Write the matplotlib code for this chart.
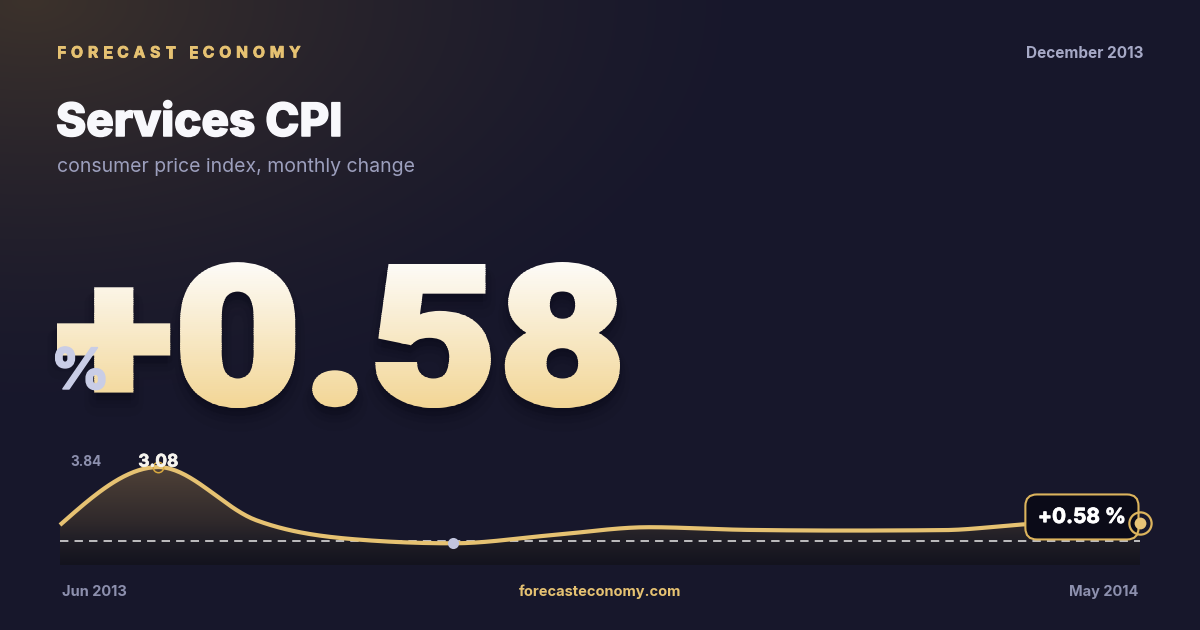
import numpy as np
import matplotlib
matplotlib.use('Agg')
import matplotlib.pyplot as plt
import matplotlib.patheffects as pe
from matplotlib.textpath import TextPath
from matplotlib.patches import PathPatch, Rectangle
from matplotlib.font_manager import FontProperties
from matplotlib.transforms import Affine2D

# data
months = ['Jun 2013', 'Jul 2013', 'Aug 2013', 'Sep 2013', 'Oct 2013', 'Nov 2013',
          'Dec 2013', 'Jan 2014', 'Feb 2014', 'Mar 2014', 'Apr 2014', 'May 2014']
cpi_change = [0.49, 3.08, 0.70, -0.15, -0.33, 0.03, 0.39, 0.27, 0.24, 0.26, 0.55, 0.58]
range_labels = ['3.84', '-0.85']
baseline = -0.22
headline = '+0.58'
period = 'December 2013'
brand = 'FORECAST ECONOMY'
title = 'Services CPI'
subtitle = 'consumer price index, monthly change'
site = 'forecasteconomy.com'

W, H = 1200, 630
plt.rcParams['font.family'] = ['Inter', 'DejaVu Sans']

GOLD = '#e6c272'
GREY = '#a6a9c6'
MUTED = '#8d90ae'


# monotone cubic (same idea as d3 curveMonotoneX)
def monotone(xs, ys, n=40):
    xs = np.asarray(xs, float); ys = np.asarray(ys, float)
    h = np.diff(xs); s = np.diff(ys) / h
    t = np.zeros_like(ys)
    for i in range(1, len(ys) - 1):
        p = (s[i - 1] * h[i] + s[i] * h[i - 1]) / (h[i - 1] + h[i])
        t[i] = (np.sign(s[i - 1]) + np.sign(s[i])) * min(abs(s[i - 1]), abs(s[i]), 0.5 * abs(p))
    t[0] = (3 * s[0] - t[1]) / 2
    t[-1] = (3 * s[-1] - t[-2]) / 2
    out_x, out_y = [], []
    for i in range(len(h)):
        u = np.linspace(0, 1, n, endpoint=(i == len(h) - 1))
        h00 = 2*u**3 - 3*u**2 + 1; h10 = u**3 - 2*u**2 + u
        h01 = -2*u**3 + 3*u**2; h11 = u**3 - u**2
        out_x.append(xs[i] + u * h[i])
        out_y.append(h00*ys[i] + h10*h[i]*t[i] + h01*ys[i+1] + h11*h[i]*t[i+1])
    return np.concatenate(out_x), np.concatenate(out_y)


fig = plt.figure(figsize=(12, 6.3), dpi=100)
bg = fig.add_axes([0, 0, 1, 1])
bg.axis('off')

# background with warm glow top-left
yy, xx = np.mgrid[0:H, 0:W]
base = np.array([23, 23, 43]) / 255
glow = np.array([60, 50, 44]) / 255
d = np.sqrt(((xx - 30) / 760) ** 2 + (yy / 430) ** 2)
k = np.clip(1 - d, 0, 1) ** 1.5
img = base + (glow - base) * k[..., None]
bg.imshow(img, extent=[0, W, 0, H], origin='upper', aspect='auto', zorder=0)


def txt(x, y, s, **kw):
    return bg.text(x, H - y, s, **kw)


def spaced(x, y, s, track, **kw):
    r = fig.canvas.get_renderer()
    for ch in s:
        if ch == ' ':
            x += 8
            continue
        t = txt(x, y, ch, **kw)
        x += t.get_window_extent(r).width + track


def heavy(lw, color):
    return [pe.withStroke(linewidth=lw, foreground=color)]


# header
spaced(57, 53, brand, 4.9, fontsize=11.2, fontweight='bold', color=GOLD, va='center',
       path_effects=heavy(0.6, GOLD))
txt(1143, 54, period, fontsize=11, fontweight='bold', color=GREY, ha='right', va='center')
txt(56, 124, title, fontsize=33, fontweight='heavy', color='#f8f8fc', va='center',
    path_effects=heavy(1.1, '#f8f8fc'))
txt(57, 167, subtitle, fontsize=14, color='#9c9fbd', va='center')

# big headline number: vertical gradient built from horizontal bands
fp = FontProperties(family=['Roboto', 'Inter', 'DejaVu Sans'], weight='black')
tp = TextPath((0, 0), headline, size=200, prop=fp)
ext = tp.get_extents()
grow = 2.5  # px added on each side by the stroke
x0, x1, ytop, ybot = 57 + grow, 620 - grow, 262 + grow, 408 - grow
tr = (Affine2D().translate(-ext.x0, -ext.y0)
      .scale((x1 - x0) / ext.width, (ybot - ytop) / ext.height)
      .translate(x0, H - ybot))
path = tr.transform_path(tp)
stroke = 2 * grow * 0.72
for off, extra, a in [(14, 14, 0.05), (10, 8, 0.07), (6, 3, 0.10)]:
    sh = Affine2D().translate(0, -off).transform_path(path)
    bg.add_patch(PathPatch(sh, fc=(0.02, 0.02, 0.07, a), ec=(0.02, 0.02, 0.07, a),
                           lw=stroke + extra, joinstyle='round', zorder=2))
top = np.array([253, 252, 249]) / 255
bot = np.array([242, 213, 148]) / 255
nb = 70
lo, hi = H - 408 - 2, H - 262 + 2
edges = np.linspace(lo, hi, nb + 1)
for i in range(nb):
    f = (i + 0.5) / nb
    c = bot + (top - bot) * f
    p = PathPatch(path, fc=c, ec=c, lw=stroke, joinstyle='miter', zorder=3)
    bg.add_patch(p)
    band_lo = edges[i] - (50 if i == 0 else 0)
    band_hi = edges[i + 1] + (50 if i == nb - 1 else 0.6)
    p.set_clip_path(Rectangle((0, band_lo), W, band_hi - band_lo, transform=bg.transData))
txt(51, 374, '%', fontsize=41, fontweight='heavy', color='#c9cde6', va='center', zorder=5,
    path_effects=heavy(1.0, '#c9cde6'))

bg.set_xlim(0, W)
bg.set_ylim(0, H)

# sparkline
sp = fig.add_axes([60 / W, (H - 565) / H, 1080 / W, 125 / H])
sp.axis('off')
sp.patch.set_alpha(0)
ylo, yhi = -1.3, 4.29
xi = np.arange(len(cpi_change))
sx, sy = monotone(xi, cpi_change)

poly = sp.fill_between(sx, sy, ylo, facecolor='none', edgecolor='none')
vals = np.linspace(yhi, ylo, 200)
stops_v = [yhi, 3.0, 0.6, -0.2, ylo]
cols = np.array([[92, 76, 62], [78, 64, 55], [47, 41, 43], [32, 30, 38], [19, 19, 30]]) / 255
fill = np.stack([np.interp(vals, stops_v[::-1], cols[::-1, c]) for c in range(3)], axis=-1)
fill = np.repeat(fill[:, None, :], 2, axis=1)
fim = sp.imshow(fill, extent=[0, len(xi) - 1, ylo, yhi], origin='upper', aspect='auto', zorder=1)
fim.set_clip_path(poly.get_paths()[0], transform=sp.transData)

sp.axhline(baseline, color='white', alpha=0.9, lw=1.1, dashes=(5.5, 4), zorder=2)
sp.plot(sx, sy, color=GOLD, lw=3, solid_capstyle='butt', zorder=3, clip_on=False)

imax = int(np.argmax(cpi_change))
imin = int(np.argmin(cpi_change))
sp.plot(imax, cpi_change[imax], 'o', ms=7.5, mfc='none', mec='#d9a93f', mew=1.1, zorder=4)
sp.annotate(f'{cpi_change[imax]:.2f}', (imax, cpi_change[imax]), xytext=(0, 5),
            textcoords='offset pixels', ha='center', va='center', fontsize=12.5,
            fontweight='bold', color='#f6f4ee', zorder=5, path_effects=heavy(0.5, '#f6f4ee'))
sp.plot(imin, cpi_change[imin], 'o', ms=8, mfc='#c2c5de', mec='none', zorder=4, clip_on=False)

sp.annotate(f'{cpi_change[-1]:+.2f} %', (xi[-1], cpi_change[-1]), xytext=(-14, 6),
            textcoords='offset pixels', ha='right', va='center', fontsize=15,
            fontweight='bold', color='white', zorder=6, path_effects=heavy(0.6, 'white'),
            bbox=dict(boxstyle='round,pad=0.6,rounding_size=0.55', fc='#0b0b18',
                      ec='#dcb45d', lw=1.5))
sp.plot(xi[-1], cpi_change[-1], 'o', ms=16, mfc='none', mec='#dcb45d', mew=1.6,
        zorder=7, clip_on=False)
sp.plot(xi[-1], cpi_change[-1], 'o', ms=8.5, mfc='#e8c477', mec='none', zorder=7, clip_on=False)
sp.set_xlim(0, len(xi) - 1)
sp.set_ylim(ylo, yhi)

txt(70, 462, range_labels[0], fontsize=9.8, fontweight='bold', color=MUTED, va='center')
txt(66, 547, range_labels[1], fontsize=9.8, fontweight='bold', color=MUTED, va='center')

# footer
txt(62, 592, months[0], fontsize=10.5, fontweight='bold', color=MUTED, va='center')
txt(600, 592, site, fontsize=10.5, fontweight='bold', color=GOLD, ha='center', va='center')
txt(1138, 592, months[-1], fontsize=10.5, fontweight='bold', color=MUTED, ha='right', va='center')

fig.savefig('out.png', dpi=100)
